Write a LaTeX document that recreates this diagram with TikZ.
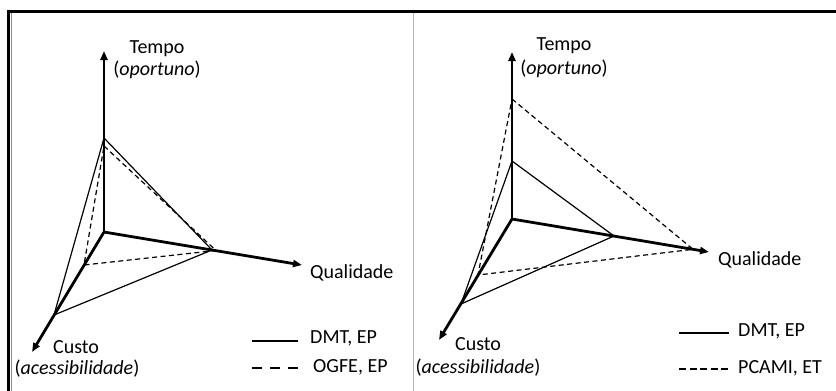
\documentclass[tikz,border=0pt]{standalone}
\usepackage{fontspec}
\setmainfont{Carlito}
\usetikzlibrary{arrows.meta}
\tikzset{
  axis/.style={line width=2.8pt,-{Triangle[length=9pt,width=7pt]}},
  solidtri/.style={line width=1.2pt},
  dashtri/.style={line width=1.2pt,dash pattern=on 5pt off 3.5pt},
  lbl/.style={inner sep=0pt,anchor=base,font=\fontsize{20}{23}\selectfont},
  leg/.style={inner sep=0pt,anchor=base west,font=\fontsize{20}{23}\selectfont},
  frame/.style={line width=3pt},
  divider/.style={line width=1.5pt,black!30}
}
\begin{document}
\begin{tikzpicture}[x=1pt,y=-1pt]
\useasboundingbox (0,0) rectangle (836,391);
% frame
\coordinate (fTL) at (8.5,11.5);
\coordinate (fTR) at (836,11.5);
\coordinate (fBL) at (8.5,391);
\draw[frame] (fTR) -- (fTL) -- (fBL);
\coordinate (sT) at (11.5,13);
\coordinate (sB) at (11.5,391);
\draw[line width=1.2pt,black!45] (sT) -- (sB);
\coordinate (dT) at (413.5,13);
\coordinate (dB) at (413.5,391);
\draw[divider] (dT) -- (dB);

% ===== left panel =====
\coordinate (O1) at (104,232);
\coordinate (T1) at (104,51);
\coordinate (Q1) at (302,265);
\coordinate (C1) at (32,352);
\coordinate (Ta) at (104,138);
\coordinate (Qa) at (212,250);
\coordinate (Ca) at (54,315);
\coordinate (Tb) at (104,146);
\coordinate (Qb) at (216,250.5);
\coordinate (Cb) at (84,265);
\draw[solidtri] (Ta) -- (Qa) -- (Ca) -- cycle;
\draw[dashtri] (Tb) -- (Qb) -- (Cb) -- cycle;
\draw[axis] (O1) -- (T1);
\draw[axis] (O1) -- (Q1);
\draw[axis] (O1) -- (C1);
\node[lbl] (tempoA) at (157,53) {Tempo};
\node[lbl] (tempoB) at (157,75) {(\textit{oportuno})};
\node[lbl,anchor=base west] (qualA) at (310,278) {Qualidade};
\node[lbl] (custoA) at (76,353) {Custo};
\node[lbl] (custoB) at (77,374) {(\textit{acessibilidade})};
\coordinate (la1) at (252,341);
\coordinate (la2) at (298,341);
\coordinate (lb1) at (252,368);
\coordinate (lb2) at (298,368);
\draw[line width=1.5pt] (la1) -- (la2);
\draw[line width=1.5pt,dash pattern=on 10pt off 8pt] (lb1) -- (lb2);
\node[leg] (legA) at (310,343) {DMT, EP};
\node[leg] (legB) at (313,372) {OGFE, EP};

% ===== right panel =====
\coordinate (O2) at (512,219);
\coordinate (T2) at (512,52);
\coordinate (Q2) at (709,252);
\coordinate (C2) at (439,340);
\coordinate (Tc) at (512,161);
\coordinate (Qc) at (614,236);
\coordinate (Cc) at (461,304);
\coordinate (Td) at (512,99);
\coordinate (Qd) at (693,249.3);
\coordinate (Cd) at (478,275);
\draw[solidtri] (Tc) -- (Qc) -- (Cc) -- cycle;
\draw[dashtri] (Td) -- (Qd) -- (Cd) -- cycle;
\draw[axis] (O2) -- (T2);
\draw[axis] (O2) -- (Q2);
\draw[axis] (O2) -- (C2);
\node[lbl] (tempoC) at (564,50) {Tempo};
\node[lbl] (tempoD) at (564,74) {(\textit{oportuno})};
\node[lbl,anchor=base west] (qualB) at (718,265) {Qualidade};
\node[lbl] (custoC) at (478,350) {Custo};
\node[lbl] (custoD) at (478,373) {(\textit{acessibilidade})};
\coordinate (lc1) at (679,333);
\coordinate (lc2) at (729,333);
\coordinate (ld1) at (679,369);
\coordinate (ld2) at (729,369);
\draw[line width=1.5pt] (lc1) -- (lc2);
\draw[line width=1.5pt,dash pattern=on 7pt off 3.5pt] (ld1) -- (ld2);
\node[leg] (legC) at (738,336) {DMT, EP};
\node[leg] (legD) at (738,373) {PCAMI, ET};
\end{tikzpicture}
\end{document}
